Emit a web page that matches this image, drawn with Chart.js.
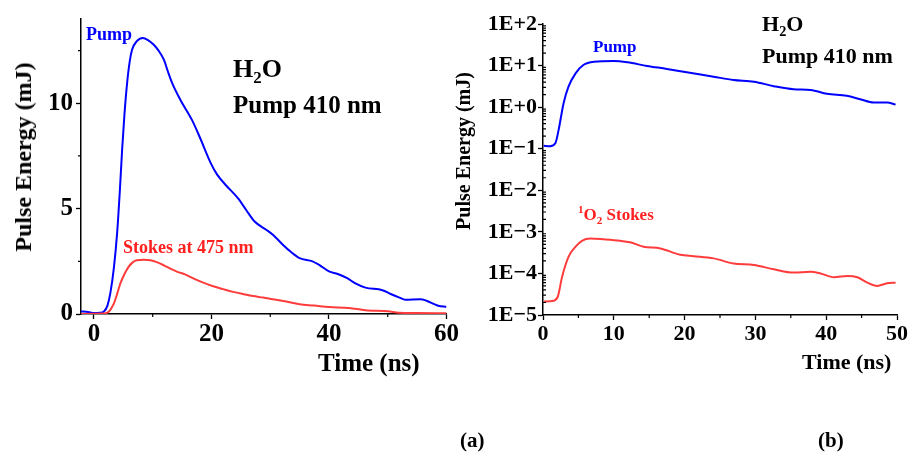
<!DOCTYPE html>
<html>
<head>
<meta charset="utf-8">
<script src="https://cdn.jsdelivr.net/npm/chart.js@4/dist/chart.umd.min.js"></script>
<style>
  body { margin: 0; background: #fff; }
  #wrap { position: relative; width: 909px; height: 452px; background: #fff; overflow: hidden;
          font-family: "Liberation Serif", "Times New Roman", serif; font-weight: bold; }
  canvas { position: absolute; top: 0; }
  .lbl { position: absolute; white-space: nowrap; line-height: 1; }
  .ytitle { position: absolute; white-space: nowrap; line-height: 1; transform: translate(-50%, -50%) rotate(-90deg); }
  sub, sup { font-size: 65%; line-height: 0; }
</style>
</head>
<body>
<div id="wrap">
  <canvas id="chartA" width="460" height="400" style="left:0"></canvas>
  <canvas id="chartB" width="449" height="400" style="left:460px"></canvas>

  <div class="ytitle" style="left:23px; top:157px; font-size:24px;">Pulse Energy (mJ)</div>
  <div class="lbl" style="left:318px; top:350px; font-size:25px;">Time (ns)</div>
  <div class="lbl" style="left:86px; top:25px; font-size:18px; color:#0000ff;">Pump</div>
  <div class="lbl" style="left:233px; top:56px; font-size:26px;">H<sub>2</sub>O</div>
  <div class="lbl" style="left:233px; top:92px; font-size:25px;">Pump 410 nm</div>
  <div class="lbl" style="left:123px; top:238px; font-size:18px; color:#ff2020;">Stokes at 475 nm</div>

  <div class="ytitle" style="left:463px; top:151px; font-size:20px;">Pulse Energy (mJ)</div>
  <div class="lbl" style="left:802px; top:351px; font-size:22px;">Time (ns)</div>
  <div class="lbl" style="left:593px; top:38px; font-size:17px; color:#0000ff;">Pump</div>
  <div class="lbl" style="left:762px; top:13px; font-size:22px;">H<sub>2</sub>O</div>
  <div class="lbl" style="left:762px; top:45px; font-size:22px;">Pump 410 nm</div>
  <div class="lbl" style="left:578px; top:206px; font-size:17px; color:#ff2020;"><sup>1</sup>O<sub>2</sub> Stokes</div>

  <div class="lbl" style="left:460px; top:430px; font-size:21px;">(a)</div>
  <div class="lbl" style="left:818px; top:430px; font-size:21px;">(b)</div>
</div>

<script>
// (a) linear plot
const timePumpA = [-2.2, -1, 0, 1, 1.7, 2.3, 2.8, 3.4, 3.95, 4.4, 4.8, 5.2, 5.65, 6.1, 6.5, 7.3, 8.3, 9.2, 10.1, 11.0,
    11.9, 12.6, 13.3, 14.7, 16.7, 18.0, 19.9, 21.0, 22.5, 24.5, 26.0, 27.3, 29.3, 30.5, 32.1, 33.5, 35.0, 37.2,
    38.5, 40.0, 41.5, 43.1, 44.5, 46.2, 49.1, 50.5, 52.0, 53.0, 55.5, 56.6, 57.8, 58.6, 60];
const pumpA = [0.12, 0.1, 0.05, 0.06, 0.12, 0.4, 1.0, 2.2, 3.85, 5.8, 7.8, 9.5, 10.97, 12.0, 12.55, 12.95, 13.1, 13.0, 12.8, 12.5,
    12.07, 11.5, 10.97, 10.17, 9.2, 8.4, 7.15, 6.6, 6.1, 5.5, 4.9, 4.4, 4.0, 3.75, 3.3, 2.95, 2.65, 2.5,
    2.3, 2.02, 1.9, 1.7, 1.45, 1.25, 1.13, 0.95, 0.78, 0.68, 0.7, 0.63, 0.48, 0.39, 0.34];
const timeStokesA = [-2.2, 0, 1.5, 2.2, 2.8, 3.4, 4.0, 4.5, 5.2, 5.9, 6.6, 7.3, 8.5, 9.6, 10.8, 11.9, 13.0, 14.2, 15.5,
    17.0, 18.5, 20.3, 22.0, 23.7, 25.5, 27.1, 28.8, 30.4, 32.5, 35.0, 37.5, 40.0, 43.4, 46.2, 50.1, 51.9, 55, 60];
const stokesA = [0, 0.01, 0.02, 0.05, 0.2, 0.5, 1.0, 1.45, 1.9, 2.24, 2.45, 2.55, 2.57, 2.55, 2.45, 2.31, 2.15, 2.0, 1.88,
    1.68, 1.5, 1.32, 1.18, 1.05, 0.94, 0.85, 0.78, 0.7, 0.6, 0.46, 0.4, 0.33, 0.29, 0.18, 0.13, 0.06, 0.05, 0.03];
const xTicksA = [0, 20, 40, 60];
const xMinorA = [10, 30, 50];
const yTicksA = [0, 5, 10];
const yMinorA = [2.5, 7.5, 12.5];

// (b) log plot
const timePumpB = [0.1, 1.0, 1.74, 2.2, 2.9, 3.6, 4.6, 5.7, 7.2, 10.0, 11.9, 14.7, 17.5, 20.3, 24.1, 26.9, 29.8,
    32.6, 35.4, 37.8, 40.1, 42.9, 44.8, 46.7, 48.6, 49.8];
const pumpB = [0.118, 0.115, 0.135, 0.28, 1.23, 3.1, 6.5, 10.3, 12.3, 12.8, 12.0, 9.8, 8.3, 6.9, 5.4, 4.5, 4.1,
    3.2, 2.7, 2.6, 2.1, 1.87, 1.55, 1.29, 1.29, 1.15];
const timeStokesB = [0.1, 1.5, 2.1, 2.7, 3.6, 4.6, 5.5, 6.7, 8.6, 10.9, 12.3, 14.2, 16.6, 19.4, 21.3, 24.1, 26.9,
    29.8, 32.6, 35.4, 37.8, 39.2, 41.1, 43.0, 44.4, 45.8, 47.2, 48.6, 49.8];
const stokesB = [2.1e-5, 2.2e-5, 2.8e-5, 8.3e-5, 2.5e-4, 4.4e-4, 6.1e-4, 6.9e-4, 6.6e-4, 6.1e-4, 5.6e-4, 4.4e-4, 4.0e-4,
    2.8e-4, 2.6e-4, 2.3e-4, 1.74e-4, 1.6e-4, 1.26e-4, 1.05e-4, 1.1e-4, 1e-4, 8.1e-5, 8.7e-5, 8.1e-5, 6.0e-5, 5.0e-5,
    5.8e-5, 6.0e-5];
const xTicksB = [0, 10, 20, 30, 40, 50];
const xMinorB = [5, 15, 25, 35, 45];
const yTicksB = [1e-5, 1e-4, 1e-3, 1e-2, 1e-1, 1e0, 1e1, 1e2];

const BLUE = '#0000ff';
const RED = '#ff3c3c';
const FONT = 'Liberation Serif';

function pairs(xs, ys) {
    return xs.map((x, i) => ({ x: x, y: ys[i] }));
}

// log minor positions 2..9 per decade
const yMinorB = [];
for (let i = 0; i < yTicksB.length - 1; i++) {
    for (let k = 2; k <= 9; k++) yMinorB.push(yTicksB[i] * k);
}

const minorTicks = {
    id: 'minorTicks',
    afterDraw(chart, args, opts) {
        const ctx = chart.ctx;
        const area = chart.chartArea;
        const xs = chart.scales.x, ys = chart.scales.y;
        ctx.save();
        ctx.strokeStyle = '#000';
        ctx.lineWidth = 1.2;
        ctx.beginPath();
        opts.x.forEach(v => {
            const px = xs.getPixelForValue(v);
            ctx.moveTo(px, area.bottom);
            ctx.lineTo(px, area.bottom + opts.len);
        });
        opts.y.forEach(v => {
            const py = ys.getPixelForValue(v);
            ctx.moveTo(area.left, py);
            ctx.lineTo(area.left + opts.yDir * opts.len, py);
        });
        ctx.stroke();
        ctx.restore();
    }
};

function lineSet(data, color) {
    return {
        data: data,
        borderColor: color,
        borderWidth: 2,
        pointRadius: 0,
        fill: false,
        cubicInterpolationMode: 'monotone'
    };
}

function axisBase(fontSize, tickLen, pad) {
    return {
        border: { display: true, color: '#000', width: 1.5 },
        grid: { display: true, drawOnChartArea: false, drawTicks: true, tickLength: tickLen, tickColor: '#000', tickWidth: 1.3 },
        ticks: { color: '#000', padding: pad, maxRotation: 0, autoSkip: false,
                 font: { family: FONT, size: fontSize, weight: 'bold' } }
    };
}

// chart (a)
const xA = axisBase(25, 5, 1);
Object.assign(xA, {
    type: 'linear', min: -2.2, max: 60,
    afterBuildTicks: s => { s.ticks = xTicksA.map(v => ({ value: v })); },
    afterFit: s => { s.height = 86; }
});
const yA = axisBase(25, 5, 3);
Object.assign(yA, {
    type: 'linear', min: 0, max: 14,
    afterBuildTicks: s => { s.ticks = yTicksA.map(v => ({ value: v })); },
    afterFit: s => { s.width = 81; }
});

new Chart(document.getElementById('chartA'), {
    type: 'line',
    data: {
        datasets: [
            lineSet(pairs(timeStokesA, stokesA), RED),
            lineSet(pairs(timePumpA, pumpA), BLUE)
        ]
    },
    options: {
        responsive: false,
        animation: false,
        devicePixelRatio: 1,
        layout: { padding: { top: 19, right: 12, left: 0, bottom: 0 } },
        scales: { x: xA, y: yA },
        plugins: {
            legend: { display: false },
            tooltip: { enabled: false },
            minorTicks: { x: xMinorA, y: yMinorA, len: 3, yDir: -1 }
        }
    },
    plugins: [minorTicks]
});

// chart (b)
const xB = axisBase(22, 5, 1);
Object.assign(xB, {
    type: 'linear', min: 0, max: 50,
    afterBuildTicks: s => { s.ticks = xTicksB.map(v => ({ value: v })); },
    afterFit: s => { s.height = 85; }
});
const yB = axisBase(22, 5, 1);
Object.assign(yB, {
    type: 'logarithmic', min: 1e-5, max: 100,
    afterBuildTicks: s => { s.ticks = yTicksB.map(v => ({ value: v })); },
    afterFit: s => { s.width = 83; }
});
yB.ticks.callback = v => {
    const e = Math.round(Math.log10(v));
    return '1E' + (e >= 0 ? '+' : '\u2212') + Math.abs(e);
};

new Chart(document.getElementById('chartB'), {
    type: 'line',
    data: {
        datasets: [
            lineSet(pairs(timeStokesB, stokesB), RED),
            lineSet(pairs(timePumpB, pumpB), BLUE)
        ]
    },
    options: {
        responsive: false,
        animation: false,
        devicePixelRatio: 1,
        layout: { padding: { top: 24, right: 12, left: 0, bottom: 0 } },
        scales: { x: xB, y: yB },
        plugins: {
            legend: { display: false },
            tooltip: { enabled: false },
            minorTicks: { x: xMinorB, y: yMinorB, len: 3, yDir: 1 }
        }
    },
    plugins: [minorTicks]
});
</script>
</body>
</html>
